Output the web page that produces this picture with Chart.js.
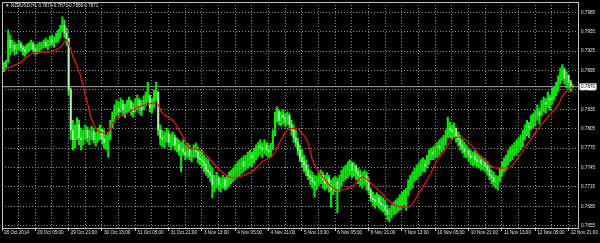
<!DOCTYPE html>
<html>
<head>
<meta charset="utf-8">
<script src="https://cdn.jsdelivr.net/npm/chart.js@4.4.1/dist/chart.umd.min.js"></script>
<style>
html, body { margin: 0; padding: 0; background: #000; }
canvas { display: block; background: #000; }
</style>
</head>
<body>
<canvas id="myChart" width="600" height="243"></canvas>
<script>
// NZDUSD H1 from 28 Oct 13:00 to 12 Nov 22:00 (2014)
var titleText = '\u25BC NZDUSD,H1 0.7870 0.7873 0.7868 0.7871'

var dateLabels = ['28 Oct 2014', '29 Oct 05:00', '29 Oct 21:00', '30 Oct 13:00', '31 Oct 05:00', '31 Oct 21:00',
  '3 Nov 13:00', '4 Nov 05:00', '4 Nov 21:00', '5 Nov 13:00', '6 Nov 05:00', '6 Nov 21:00',
  '7 Nov 13:00', '10 Nov 05:00', '10 Nov 21:00', '11 Nov 13:00', '12 Nov 05:00', '12 Nov 21:00']
var barsPerLabel = 16

var priceTicks = [0.7655, 0.7685, 0.7715, 0.7745, 0.7775, 0.7805, 0.7835, 0.7865, 0.7895, 0.7925, 0.7955, 0.7985]
var bidPrice = 0.7870

var highs = [
  0.7908,0.7911,0.7958,0.7950,0.7942,0.7939,0.7936,0.7942,0.7939,0.7934,
  0.7933,0.7936,0.7938,0.7942,0.7939,0.7934,0.7936,0.7939,0.7939,0.7942,
  0.7945,0.7942,0.7948,0.7950,0.7947,0.7953,0.7958,0.7965,0.7978,0.7973,
  0.7961,0.7945,0.7868,0.7818,0.7811,0.7822,0.7818,0.7806,0.7803,0.7811,
  0.7808,0.7803,0.7809,0.7806,0.7800,0.7806,0.7811,0.7806,0.7803,0.7795,
  0.7800,0.7818,0.7831,0.7842,0.7849,0.7846,0.7852,0.7849,0.7843,0.7849,
  0.7854,0.7849,0.7845,0.7852,0.7857,0.7852,0.7849,0.7856,0.7862,0.7877,
  0.7857,0.7852,0.7865,0.7877,0.7862,0.7811,0.7803,0.7800,0.7806,0.7803,
  0.7797,0.7800,0.7795,0.7791,0.7788,0.7784,0.7788,0.7780,0.7783,0.7780,
  0.7775,0.7780,0.7783,0.7777,0.7772,0.7772,0.7764,0.7760,0.7757,0.7749,
  0.7744,0.7733,0.7738,0.7732,0.7729,0.7733,0.7730,0.7732,0.7738,0.7741,
  0.7744,0.7749,0.7754,0.7757,0.7760,0.7763,0.7764,0.7769,0.7772,0.7769,
  0.7775,0.7780,0.7784,0.7788,0.7783,0.7788,0.7784,0.7780,0.7783,0.7803,
  0.7831,0.7839,0.7834,0.7831,0.7834,0.7829,0.7831,0.7828,0.7818,0.7811,
  0.7803,0.7791,0.7780,0.7772,0.7764,0.7757,0.7749,0.7741,0.7738,0.7733,
  0.7732,0.7738,0.7741,0.7738,0.7733,0.7737,0.7733,0.7726,0.7729,0.7732,
  0.7729,0.7733,0.7741,0.7746,0.7749,0.7754,0.7757,0.7754,0.7752,0.7749,
  0.7744,0.7741,0.7738,0.7741,0.7738,0.7729,0.7713,0.7707,0.7703,0.7706,
  0.7703,0.7701,0.7698,0.7695,0.7687,0.7682,0.7687,0.7692,0.7695,0.7698,
  0.7703,0.7707,0.7710,0.7713,0.7726,0.7733,0.7738,0.7744,0.7749,0.7752,
  0.7757,0.7760,0.7757,0.7764,0.7772,0.7775,0.7777,0.7780,0.7784,0.7788,
  0.7791,0.7795,0.7803,0.7823,0.7815,0.7811,0.7814,0.7806,0.7800,0.7795,
  0.7788,0.7784,0.7780,0.7775,0.7772,0.7769,0.7772,0.7767,0.7764,0.7763,
  0.7760,0.7757,0.7754,0.7749,0.7741,0.7738,0.7733,0.7732,0.7744,0.7754,
  0.7760,0.7764,0.7772,0.7777,0.7780,0.7784,0.7788,0.7792,0.7795,0.7803,
  0.7811,0.7818,0.7815,0.7826,0.7829,0.7834,0.7842,0.7837,0.7849,0.7854,
  0.7852,0.7862,0.7857,0.7868,0.7870,0.7877,0.7887,0.7899,0.7904,0.7899,
  0.7893,0.7888,0.7880,0.7873]
var lows = [
  0.7893,0.7899,0.7908,0.7919,0.7924,0.7919,0.7921,0.7927,0.7924,0.7919,
  0.7917,0.7921,0.7924,0.7927,0.7924,0.7919,0.7921,0.7924,0.7927,0.7930,
  0.7930,0.7927,0.7933,0.7934,0.7931,0.7938,0.7939,0.7945,0.7955,0.7945,
  0.7934,0.7857,0.7788,0.7772,0.7775,0.7788,0.7780,0.7772,0.7780,0.7788,
  0.7784,0.7780,0.7788,0.7783,0.7778,0.7784,0.7788,0.7781,0.7775,0.7772,
  0.7761,0.7788,0.7806,0.7815,0.7826,0.7822,0.7831,0.7825,0.7822,0.7828,
  0.7831,0.7826,0.7823,0.7831,0.7834,0.7828,0.7825,0.7834,0.7840,0.7846,
  0.7831,0.7829,0.7837,0.7849,0.7795,0.7780,0.7777,0.7775,0.7784,0.7778,
  0.7772,0.7778,0.7772,0.7769,0.7764,0.7738,0.7764,0.7757,0.7760,0.7757,
  0.7754,0.7760,0.7761,0.7752,0.7749,0.7744,0.7738,0.7733,0.7729,0.7723,
  0.7698,0.7707,0.7713,0.7710,0.7707,0.7713,0.7710,0.7712,0.7716,0.7720,
  0.7723,0.7726,0.7729,0.7732,0.7735,0.7738,0.7741,0.7744,0.7747,0.7746,
  0.7752,0.7757,0.7761,0.7764,0.7760,0.7766,0.7763,0.7760,0.7761,0.7772,
  0.7794,0.7815,0.7811,0.7809,0.7812,0.7808,0.7811,0.7806,0.7795,0.7784,
  0.7777,0.7764,0.7754,0.7746,0.7738,0.7732,0.7726,0.7718,0.7713,0.7699,
  0.7710,0.7716,0.7720,0.7713,0.7710,0.7713,0.7707,0.7684,0.7703,0.7707,
  0.7675,0.7707,0.7716,0.7723,0.7726,0.7729,0.7733,0.7729,0.7732,0.7726,
  0.7720,0.7716,0.7713,0.7718,0.7710,0.7703,0.7692,0.7686,0.7682,0.7686,
  0.7682,0.7679,0.7676,0.7672,0.7664,0.7661,0.7667,0.7672,0.7673,0.7676,
  0.7679,0.7682,0.7687,0.7679,0.7701,0.7710,0.7713,0.7723,0.7726,0.7730,
  0.7733,0.7738,0.7738,0.7744,0.7750,0.7757,0.7757,0.7760,0.7761,0.7764,
  0.7769,0.7772,0.7780,0.7791,0.7791,0.7788,0.7792,0.7784,0.7778,0.7772,
  0.7767,0.7761,0.7760,0.7754,0.7750,0.7747,0.7749,0.7746,0.7744,0.7741,
  0.7741,0.7738,0.7733,0.7726,0.7720,0.7716,0.7713,0.7710,0.7723,0.7732,
  0.7738,0.7741,0.7749,0.7754,0.7757,0.7763,0.7764,0.7769,0.7772,0.7777,
  0.7788,0.7794,0.7791,0.7803,0.7806,0.7809,0.7818,0.7812,0.7825,0.7831,
  0.7829,0.7837,0.7834,0.7843,0.7849,0.7856,0.7862,0.7874,0.7880,0.7874,
  0.7868,0.7865,0.7862,0.7868]
var closes = [
  0.7902,0.7908,0.7942,0.7930,0.7934,0.7927,0.7933,0.7936,0.7930,0.7927,
  0.7924,0.7931,0.7933,0.7936,0.7928,0.7925,0.7930,0.7933,0.7934,0.7938,
  0.7933,0.7936,0.7942,0.7939,0.7944,0.7945,0.7950,0.7958,0.7965,0.7953,
  0.7945,0.7865,0.7803,0.7788,0.7795,0.7811,0.7791,0.7788,0.7795,0.7803,
  0.7791,0.7794,0.7800,0.7788,0.7792,0.7798,0.7803,0.7789,0.7784,0.7788,
  0.7791,0.7811,0.7822,0.7834,0.7837,0.7831,0.7843,0.7834,0.7837,0.7842,
  0.7846,0.7837,0.7831,0.7843,0.7849,0.7840,0.7834,0.7849,0.7852,0.7856,
  0.7837,0.7846,0.7857,0.7862,0.7803,0.7791,0.7788,0.7794,0.7797,0.7784,
  0.7788,0.7791,0.7780,0.7780,0.7772,0.7775,0.7769,0.7764,0.7772,0.7763,
  0.7766,0.7772,0.7769,0.7760,0.7757,0.7754,0.7749,0.7741,0.7738,0.7733,
  0.7718,0.7723,0.7729,0.7718,0.7721,0.7726,0.7716,0.7726,0.7732,0.7735,
  0.7738,0.7741,0.7744,0.7749,0.7754,0.7747,0.7757,0.7760,0.7764,0.7760,
  0.7769,0.7772,0.7778,0.7775,0.7772,0.7780,0.7772,0.7769,0.7775,0.7795,
  0.7822,0.7831,0.7818,0.7826,0.7822,0.7815,0.7825,0.7812,0.7803,0.7791,
  0.7784,0.7772,0.7760,0.7754,0.7749,0.7741,0.7733,0.7729,0.7723,0.7718,
  0.7723,0.7729,0.7733,0.7726,0.7720,0.7729,0.7718,0.7710,0.7716,0.7723,
  0.7710,0.7726,0.7735,0.7741,0.7744,0.7749,0.7750,0.7741,0.7746,0.7738,
  0.7733,0.7726,0.7729,0.7732,0.7723,0.7710,0.7698,0.7695,0.7692,0.7698,
  0.7690,0.7687,0.7686,0.7679,0.7673,0.7676,0.7679,0.7686,0.7689,0.7692,
  0.7695,0.7701,0.7701,0.7707,0.7718,0.7726,0.7729,0.7738,0.7741,0.7744,
  0.7749,0.7750,0.7747,0.7757,0.7764,0.7769,0.7766,0.7772,0.7778,0.7775,
  0.7784,0.7788,0.7795,0.7806,0.7803,0.7800,0.7806,0.7794,0.7788,0.7780,
  0.7775,0.7769,0.7772,0.7764,0.7760,0.7763,0.7757,0.7754,0.7757,0.7750,
  0.7754,0.7747,0.7741,0.7733,0.7729,0.7723,0.7726,0.7729,0.7738,0.7744,
  0.7754,0.7757,0.7764,0.7769,0.7772,0.7775,0.7780,0.7784,0.7788,0.7795,
  0.7803,0.7809,0.7806,0.7818,0.7822,0.7826,0.7831,0.7826,0.7842,0.7846,
  0.7843,0.7852,0.7849,0.7862,0.7865,0.7868,0.7880,0.7890,0.7896,0.7883,
  0.7887,0.7877,0.7871,0.7871]

// red moving average, read at some bars
var maBars = [0, 8, 14, 22, 27, 30, 33, 36, 38, 40, 42, 44, 46, 50, 52, 59, 65, 73, 76, 81,
  86, 89, 94, 99, 105, 110, 115, 120, 124, 129, 133, 136, 140, 143, 146, 148, 153, 158, 161, 168,
  172, 176, 181, 186, 190, 194, 200, 205, 208, 211, 216, 219, 224, 229, 233, 237, 242, 246, 251, 256,
  261, 266, 269, 273]
var maValues = [0.7896, 0.7908, 0.7922, 0.7924, 0.7931, 0.7942, 0.7917, 0.7894, 0.7870, 0.7845,
  0.7820, 0.7806, 0.7800, 0.7798, 0.7814, 0.7829, 0.7839, 0.7845, 0.7829, 0.7818,
  0.7792, 0.7775, 0.7772, 0.7757, 0.7737, 0.7729, 0.7733, 0.7741, 0.7754, 0.7764,
  0.7788, 0.7803, 0.7806, 0.7798, 0.7783, 0.7757, 0.7730, 0.7713, 0.7710, 0.7718,
  0.7730, 0.7721, 0.7706, 0.7690, 0.7684, 0.7684, 0.7710, 0.7737, 0.7757, 0.7769,
  0.7791, 0.7792, 0.7780, 0.7761, 0.7749, 0.7744, 0.7744, 0.7757, 0.7780, 0.7803,
  0.7823, 0.7842, 0.7860, 0.7870]

var xMin = -1, xMax = 275.5
var yMin = 0.76515, yMax = 0.80009

var wicks = []
var bodies = []
for (var i = 0; i < closes.length; i++) {
  var open = i > 0 ? closes[i - 1] : closes[0]
  wicks.push({x: i, y: [lows[i], highs[i]]})
  bodies.push({x: i, y: [open, closes[i]], down: closes[i] < open})
}
var ma = maBars.map(function(b, k) { return {x: b, y: maValues[k]} })

var gridColor = '#8e8e8e'
var axisColor = '#c4c4c4'
var textColor = '#e4e4e4'
var smallFont = {family: 'Liberation Sans', size: 4.6}

// left and top edge of the frame plus the symbol line
var framePlugin = {
  id: 'frame',
  afterDraw: function(chart) {
    var c = chart.ctx, a = chart.chartArea
    c.save()
    c.strokeStyle = axisColor
    c.lineWidth = 1
    c.beginPath()
    c.moveTo(Math.round(a.left) + 0.5, a.bottom)
    c.lineTo(Math.round(a.left) + 0.5, Math.round(a.top) + 0.5)
    c.lineTo(a.right, Math.round(a.top) + 0.5)
    c.stroke()
    c.fillStyle = textColor
    c.font = smallFont.size + 'px ' + smallFont.family
    c.textBaseline = 'middle'
    c.fillText(titleText, a.left + 3, a.top + 4)
    c.restore()
  }
}

const ctx = document.getElementById('myChart')
new Chart(ctx, {
  type: 'bar',
  data: {
    datasets: [{
      type: 'line',
      label: 'MA',
      data: ma,
      borderColor: '#e01818',
      borderWidth: 1.3,
      pointRadius: 0,
      cubicInterpolationMode: 'monotone',
      order: 0
    }, {
      label: 'body',
      data: bodies,
      backgroundColor: function(c) {
        var d = c.raw
        return d && d.down ? '#b4f7b4' : '#10e810'
      },
      barThickness: 1,
      grouped: false,
      order: 1
    }, {
      label: 'wick',
      data: wicks,
      backgroundColor: '#12e012',
      barThickness: 1.5,
      grouped: false,
      order: 2
    }, {
      type: 'line',
      label: 'bid',
      data: [{x: xMin, y: bidPrice}, {x: xMax, y: bidPrice}],
      borderColor: '#a8a8a8',
      borderWidth: 1,
      pointRadius: 0,
      order: 3
    }]
  },
  options: {
    responsive: false,
    animation: false,
    devicePixelRatio: 1,
    layout: {padding: {left: 2, top: 2, right: 0, bottom: 0}},
    plugins: {legend: {display: false}, tooltip: {enabled: false}},
    scales: {
      x: {
        type: 'linear',
        min: xMin,
        max: xMax,
        offset: false,
        grid: {
          color: gridColor,
          offset: false,
          drawTicks: true,
          tickLength: 3,
          tickColor: function(c) { return c.index % 2 === 0 ? axisColor : 'rgba(0,0,0,0)' }
        },
        border: {display: true, color: axisColor, dash: [1, 2]},
        ticks: {
          autoSkip: false,
          maxRotation: 0,
          minRotation: 0,
          align: 'start',
          labelOffset: 2,
          padding: -1,
          color: textColor,
          font: smallFont,
          callback: function(v, idx) { return idx % 2 === 0 ? dateLabels[idx / 2] : '' }
        },
        afterBuildTicks: function(scale) {
          var t = []
          for (var m = 0; m <= dateLabels.length * 2 - 2; m++) t.push({value: m * barsPerLabel / 2 - 1})
          scale.ticks = t
        },
        afterFit: function(scale) {
          scale.height = 15
          scale.paddingLeft = 0
          scale.paddingRight = 0
        }
      },
      y: {
        position: 'right',
        min: yMin,
        max: yMax,
        grid: {
          color: function(c) { return c.tick && Math.abs(c.tick.value - bidPrice) < 1e-6 ? 'rgba(0,0,0,0)' : gridColor },
          drawTicks: false
        },
        border: {display: true, color: axisColor, dash: [1, 2]},
        ticks: {
          autoSkip: false,
          padding: 3,
          font: smallFont,
          color: function(c) { return c.tick && Math.abs(c.tick.value - bidPrice) < 1e-6 ? '#000' : textColor },
          showLabelBackdrop: function(c) { return !!(c.tick && Math.abs(c.tick.value - bidPrice) < 1e-6) },
          backdropColor: '#ffffff',
          backdropPadding: {left: 1.5, right: 1.5, top: 0.5, bottom: 0.5},
          callback: function(v) { return v.toFixed(4) }
        },
        afterBuildTicks: function(scale) {
          scale.ticks = priceTicks.concat([bidPrice]).map(function(v) { return {value: v} })
        },
        afterFit: function(scale) {
          scale.width = 22
          scale.paddingTop = 0
          scale.paddingBottom = 0
        }
      }
    }
  },
  plugins: [framePlugin]
})
</script>
</body>
</html>
